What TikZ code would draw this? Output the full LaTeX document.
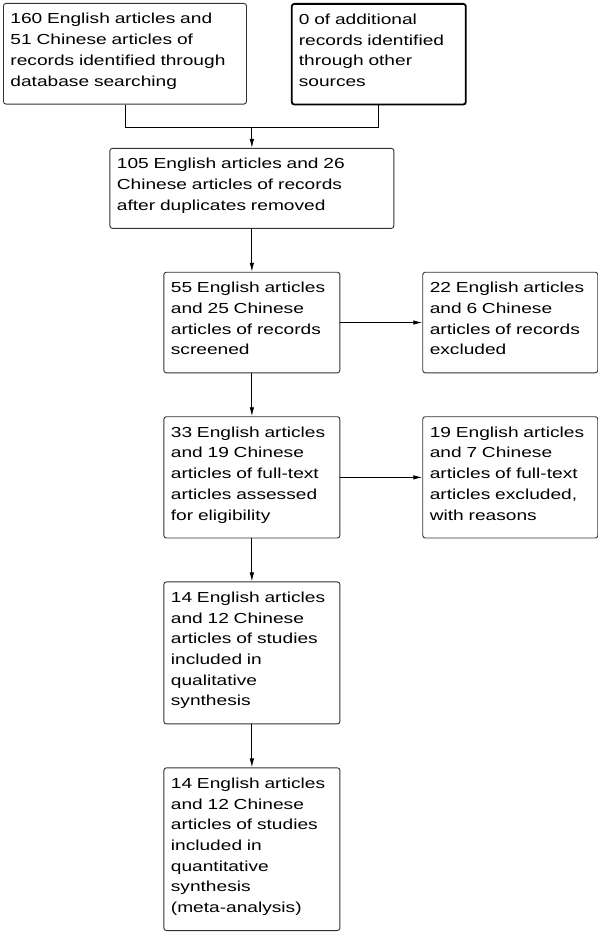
\documentclass[tikz,border=0pt]{standalone}
\usepackage{fontspec}
\setmainfont{Liberation Sans}[FakeStretch=1.32]
\usetikzlibrary{positioning,arrows.meta,calc}
\tikzset{
	>={Latex[length=9pt,width=4.5pt]}
}

\begin{document}
\begin{tikzpicture}[
node distance = 43pt,
every node/.style = {
	font = \fontsize{14.5pt}{20.7pt}\selectfont
},
record/.style = {
	draw = black!80,
	line width = 0.9pt,
	rounded corners = 2.5pt,
	align = left,
	inner xsep = 7pt,
	inner ysep = 10pt,
	execute at end node = {\rule[-8pt]{0pt}{8pt}}
},
flow/.style = {
	->,
	line width = 0.9pt
}
]

\useasboundingbox (0,0) rectangle (597pt,-933pt);

\node (search) [record, anchor = north west, text width = 229pt] at (3pt,-3pt) {160 English articles and\\51 Chinese articles of\\records identified through\\database searching};
\node (other) [record, draw = black, line width = 1.8pt, right = 44pt of search.north east, anchor = north west, text width = 160pt] {0 of additional\\records identified\\through other\\sources};
\coordinate (merge) at ($(search.south)!0.5!(other.south) + (0,-22pt)$);
\node (dedup) [record, below = 21pt of merge, text width = 270pt] {105 English articles and 26\\Chinese articles of records\\after duplicates removed};
\node (screen) [record, below = of dedup, text width = 162pt] {55 English articles\\and 25 Chinese\\articles of records\\screened};
\node (excl) [record, right = 82pt of screen.north east, anchor = north west, text width = 161pt] {22 English articles\\and 6 Chinese\\articles of records\\excluded};
\node (full) [record, below = of screen, text width = 162pt] {33 English articles\\and 19 Chinese\\articles of full-text\\articles assessed\\for eligibility};
\node (fullexcl) [record, right = 82pt of full.north east, anchor = north west, text width = 161pt] {19 English articles\\and 7 Chinese\\articles of full-text\\articles excluded,\\with reasons};
\node (qual) [record, below = of full, text width = 162pt] {14 English articles\\and 12 Chinese\\articles of studies\\included in\\qualitative\\synthesis};
\node (quant) [record, below = of qual, text width = 162pt] {14 English articles\\and 12 Chinese\\articles of studies\\included in\\quantitative\\synthesis\\(meta-analysis)};

\draw [line width = 0.9pt] (search.south) |- (merge) -| (other.south);
\draw [flow] (merge) -- (dedup);
\draw [flow] (dedup) -- (screen);
\draw [flow] (screen.east) -- (excl.west);
\draw [flow] (screen) -- (full);
\draw [flow] (full.east) -- (fullexcl.west);
\draw [flow] (full) -- (qual);
\draw [flow] (qual) -- (quant);

\end{tikzpicture}
\end{document}
